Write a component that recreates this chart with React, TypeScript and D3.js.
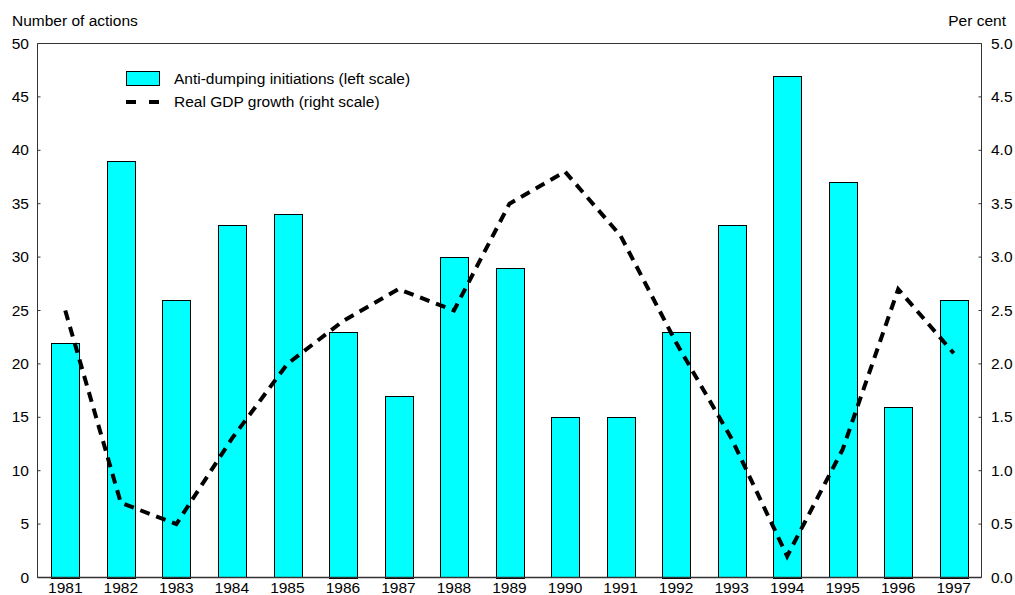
import { line, scaleBand, scaleLinear } from 'd3';

const years = ['1981', '1982', '1983', '1984', '1985', '1986', '1987', '1988', '1989', '1990', '1991', '1992', '1993', '1994', '1995', '1996', '1997'];
const antiDumping = [22, 39, 26, 33, 34, 23, 17, 30, 29, 15, 15, 23, 33, 47, 37, 16, 26];
const gdpGrowth = [2.5, 0.7, 0.5, 1.3, 2.0, 2.4, 2.7, 2.5, 3.5, 3.8, 3.2, 2.2, 1.3, 0.2, 1.2, 2.7, 2.1];
const leftTicks = [0, 5, 10, 15, 20, 25, 30, 35, 40, 45, 50];
const rightTicks = [0, 0.5, 1, 1.5, 2, 2.5, 3, 3.5, 4, 4.5, 5];

const WIDTH = 1015;
const HEIGHT = 595;
const PLOT = { left: 37.5, right: 981.5, top: 43.5, bottom: 577.5 };
const FONT = 'Liberation Sans, Arial, sans-serif';
const FONT_SIZE = 15.5;
const AXIS_COLOR = '#333';

export default function App() {
  const x = scaleBand<string>()
    .domain(years)
    .range([PLOT.left, PLOT.right])
    .paddingInner(0.5)
    .paddingOuter(0.25);
  const yLeft = scaleLinear().domain([0, 50]).range([PLOT.bottom, PLOT.top]);
  const yRight = scaleLinear().domain([0, 5]).range([PLOT.bottom, PLOT.top]);

  const gdpLine = line<number>()
    .x((_, i) => (x(years[i]) ?? 0) + x.bandwidth() / 2)
    .y((d) => yRight(d));

  return (
    <svg
      width={WIDTH}
      height={HEIGHT}
      style={{ position: 'absolute', left: 0, top: 0, background: '#fff' }}
      fontFamily={FONT}
    >
      {/* bars */}
      {antiDumping.map((v, i) => (
        <rect
          key={years[i]}
          x={Math.round(x(years[i]) ?? 0) + 0.5}
          y={Math.round(yLeft(v)) + 0.5}
          width={Math.round(x.bandwidth())}
          height={Math.round(yLeft(0) - yLeft(v))}
          fill="#00ffff"
          stroke="#000"
          strokeWidth={1}
        />
      ))}

      {/* frame */}
      <line x1={PLOT.left} x2={PLOT.right} y1={PLOT.top} y2={PLOT.top} stroke={AXIS_COLOR} />
      <line x1={PLOT.left} x2={PLOT.right} y1={PLOT.bottom} y2={PLOT.bottom} stroke={AXIS_COLOR} strokeWidth={1.5} />
      <line x1={PLOT.left} x2={PLOT.left} y1={PLOT.top} y2={PLOT.bottom} stroke={AXIS_COLOR} />
      <line x1={PLOT.right} x2={PLOT.right} y1={PLOT.top} y2={PLOT.bottom} stroke={AXIS_COLOR} />

      {/* left axis */}
      {leftTicks.map((t) => (
        <g key={`l-${t}`}>
          <line x1={PLOT.left} x2={PLOT.left + 3} y1={yLeft(t)} y2={yLeft(t)} stroke={AXIS_COLOR} />
          <text x={29} y={yLeft(t) + 5} fontSize={FONT_SIZE} textAnchor="end" fill="#000">
            {t}
          </text>
        </g>
      ))}

      {/* right axis */}
      {rightTicks.map((t) => (
        <g key={`r-${t}`}>
          <line x1={PLOT.right - 3} x2={PLOT.right} y1={yRight(t)} y2={yRight(t)} stroke={AXIS_COLOR} />
          <text x={991} y={yRight(t) + 5} fontSize={FONT_SIZE} textAnchor="start" fill="#000">
            {t.toFixed(1)}
          </text>
        </g>
      ))}

      {/* x labels */}
      {years.map((yr) => (
        <text
          key={`x-${yr}`}
          x={(x(yr) ?? 0) + x.bandwidth() / 2}
          y={593}
          fontSize={FONT_SIZE}
          textAnchor="middle"
          fill="#000"
        >
          {yr}
        </text>
      ))}

      {/* GDP line */}
      <path
        d={gdpLine(gdpGrowth) ?? ''}
        fill="none"
        stroke="#000"
        strokeWidth={4}
        strokeDasharray="10 7"
      />

      {/* axis titles */}
      <text x={12} y={26} fontSize={FONT_SIZE} fill="#000">
        Number of actions
      </text>
      <text x={1006} y={26} fontSize={FONT_SIZE} textAnchor="end" fill="#000">
        Per cent
      </text>

      {/* legend */}
      <rect x={126.5} y={71.5} width={33} height={14} fill="#00ffff" stroke="#000" />
      <text x={174} y={84} fontSize={FONT_SIZE} fill="#000">
        Anti-dumping initiations (left scale)
      </text>
      <line x1={126} x2={160} y1={102} y2={102} stroke="#000" strokeWidth={4} strokeDasharray="10 13" />
      <text x={174} y={107} fontSize={FONT_SIZE} fill="#000">
        Real GDP growth (right scale)
      </text>
    </svg>
  );
}
